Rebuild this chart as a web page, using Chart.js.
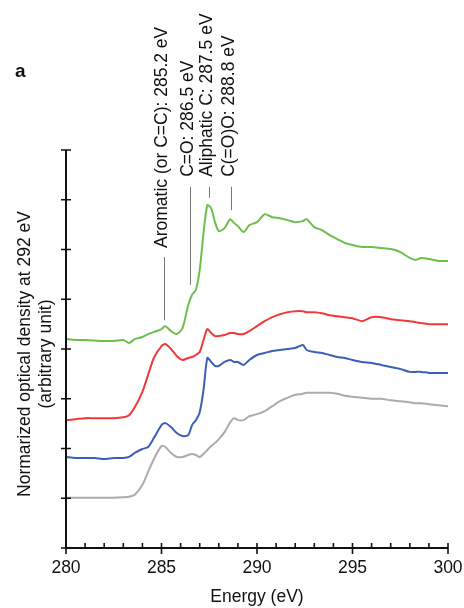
<!DOCTYPE html>
<html>
<head>
<meta charset="utf-8">
<script src="https://cdn.jsdelivr.net/npm/chart.js"></script>
<style>
body { margin: 0; background: #fff; }
</style>
</head>
<body>
<canvas id="xanesChart" width="464" height="608"></canvas>
<script>
// Energías (eV) y espectros normalizados (unidad arbitraria)
var energias = [280, 280.5, 281, 281.5, 282, 282.5, 283, 283.3, 283.6, 284, 284.3, 284.6, 285, 285.2, 285.5, 285.8, 286.1, 286.4, 286.6, 286.8, 287, 287.2, 287.4, 287.6, 287.8, 288, 288.3, 288.6, 288.8, 289, 289.3, 289.6, 290, 290.4, 290.8, 291.2, 291.6, 292, 292.4, 292.6, 293, 293.4, 293.8, 294.2, 294.6, 295, 295.5, 296, 296.5, 297, 297.5, 298, 298.3, 298.6, 299, 299.5, 300];

var verde = [4.20, 4.18, 4.18, 4.17, 4.16, 4.16, 4.18, 4.12, 4.20, 4.24, 4.30, 4.34, 4.40, 4.46, 4.36, 4.30, 4.42, 4.88, 5.09, 5.19, 5.59, 6.33, 6.89, 6.83, 6.55, 6.37, 6.43, 6.61, 6.53, 6.47, 6.35, 6.49, 6.55, 6.71, 6.65, 6.63, 6.59, 6.55, 6.57, 6.61, 6.45, 6.39, 6.29, 6.21, 6.13, 6.09, 6.05, 6.05, 6.03, 6.01, 5.95, 5.83, 5.79, 5.83, 5.81, 5.77, 5.77];

var rojo = [2.57, 2.59, 2.61, 2.61, 2.61, 2.61, 2.63, 2.67, 2.83, 3.14, 3.48, 3.82, 4.06, 4.10, 4.00, 3.86, 3.78, 3.82, 3.84, 3.88, 3.94, 4.18, 4.40, 4.32, 4.26, 4.26, 4.28, 4.32, 4.32, 4.30, 4.30, 4.36, 4.46, 4.56, 4.64, 4.70, 4.74, 4.76, 4.76, 4.74, 4.74, 4.72, 4.68, 4.66, 4.64, 4.62, 4.56, 4.64, 4.64, 4.60, 4.58, 4.56, 4.54, 4.52, 4.50, 4.50, 4.50];

var azul = [1.83, 1.81, 1.81, 1.81, 1.79, 1.81, 1.81, 1.83, 1.91, 1.99, 2.03, 2.21, 2.47, 2.51, 2.43, 2.31, 2.25, 2.27, 2.47, 2.57, 2.73, 3.18, 3.82, 3.74, 3.66, 3.66, 3.74, 3.78, 3.74, 3.74, 3.68, 3.78, 3.88, 3.92, 3.96, 3.98, 4.00, 4.02, 4.08, 3.98, 3.94, 3.92, 3.88, 3.84, 3.82, 3.78, 3.74, 3.72, 3.68, 3.64, 3.60, 3.54, 3.54, 3.54, 3.52, 3.52, 3.52];

var gris = [1.01, 1.01, 1.01, 1.01, 1.01, 1.01, 1.02, 1.03, 1.07, 1.27, 1.53, 1.79, 2.05, 2.03, 1.91, 1.83, 1.83, 1.87, 1.89, 1.87, 1.83, 1.89, 1.97, 2.05, 2.11, 2.19, 2.33, 2.53, 2.61, 2.57, 2.57, 2.65, 2.69, 2.75, 2.85, 2.95, 3.02, 3.08, 3.10, 3.12, 3.12, 3.12, 3.12, 3.10, 3.06, 3.04, 3.02, 3.00, 3.00, 2.97, 2.95, 2.93, 2.91, 2.91, 2.89, 2.87, 2.85];

var ticksX = [280, 285, 290, 295, 300];

// Picos marcados
var picosTexto = ["Aromatic (or C=C): 285.2 eV", "C=O: 286.5 eV", "Aliphatic C: 287.5 eV", "C(=O)O: 288.8 eV"];
var picosEnergia = [285.15, 286.5, 287.5, 288.65];
var picosLineaArriba = [5.85, 7.26, 7.26, 7.26];
var picosLineaAbajo = [4.58, 5.29, 7.04, 6.79];
var picosTextoInicio = [6.03, 7.46, 7.46, 7.46];

var FUENTE = "'Liberation Sans', Arial, Helvetica, sans-serif";

function serie(valores) {
    return energias.map(function (e, i) {
        return { x: e, y: valores[i] };
    });
}

var ejesPlugin = {
    id: "ejes",
    afterDraw: function (chart) {
        var ctx = chart.ctx;
        var sx = chart.scales.x;
        var sy = chart.scales.y;
        var x0 = sx.getPixelForValue(280);
        var x1 = sx.getPixelForValue(300);
        var y0 = sy.getPixelForValue(0);
        var y1 = sy.getPixelForValue(8);

        ctx.save();
        ctx.strokeStyle = "#111";
        ctx.lineWidth = 2;
        ctx.beginPath();
        ctx.moveTo(x0, y1);
        ctx.lineTo(x0, y0);
        ctx.lineTo(x1, y0);
        ctx.stroke();

        ctx.lineWidth = 1.6;
        ctx.beginPath();
        for (var v = 0; v <= 8; v++) {
            var py = sy.getPixelForValue(v);
            ctx.moveTo(x0 - 5, py);
            ctx.lineTo(x0 + 5, py);
        }
        for (var e = 280; e <= 300; e++) {
            var px = sx.getPixelForValue(e);
            if (ticksX.indexOf(e) >= 0) {
                ctx.moveTo(px, y0 - 5);
                ctx.lineTo(px, y0 + 6);
            } else {
                ctx.moveTo(px, y0 - 5);
                ctx.lineTo(px, y0);
            }
        }
        ctx.stroke();

        // Título eje Y
        ctx.fillStyle = "#111";
        ctx.font = "17.5px " + FUENTE;
        ctx.textAlign = "center";
        ctx.textBaseline = "middle";
        ctx.save();
        ctx.translate(25, 354);
        ctx.rotate(-Math.PI / 2);
        ctx.fillText("Normarized optical density at 292 eV", 0, 0);
        ctx.fillText("(arbitrary unit)", 0, 21);
        ctx.restore();

        // Letra del panel
        ctx.font = "bold 19px " + FUENTE;
        ctx.textAlign = "left";
        ctx.textBaseline = "alphabetic";
        ctx.fillText("a", 15, 77);

        // Picos
        ctx.strokeStyle = "#777";
        ctx.lineWidth = 1;
        for (var i = 0; i < picosTexto.length; i++) {
            var lx = Math.round(sx.getPixelForValue(picosEnergia[i])) + 0.5;
            ctx.beginPath();
            ctx.moveTo(lx, sy.getPixelForValue(picosLineaArriba[i]));
            ctx.lineTo(lx, sy.getPixelForValue(picosLineaAbajo[i]));
            ctx.stroke();

            ctx.save();
            ctx.translate(lx - 2, sy.getPixelForValue(picosTextoInicio[i]));
            ctx.rotate(-Math.PI / 2);
            ctx.font = "17.5px " + FUENTE;
            ctx.textAlign = "left";
            ctx.textBaseline = "middle";
            ctx.fillStyle = "#111";
            ctx.fillText(picosTexto[i], 0, 0);
            ctx.restore();
        }
        ctx.restore();
    }
};

var ctx1 = document.getElementById("xanesChart").getContext("2d");
var xanesChart = new Chart(ctx1, {
    type: "line",
    data: {
        datasets: [
            { data: serie(verde), borderColor: "#6cbf4e" },
            { data: serie(rojo), borderColor: "#ee3a3a" },
            { data: serie(azul), borderColor: "#3a5fb5" },
            { data: serie(gris), borderColor: "#ababab" },
        ],
    },
    options: {
        responsive: false,
        animation: false,
        layout: {
            padding: { top: 150, right: 16, left: 0, bottom: 0 },
        },
        elements: {
            line: { borderWidth: 2, tension: 0.25, fill: false },
            point: { radius: 0, hoverRadius: 0 },
        },
        plugins: {
            legend: { display: false },
            tooltip: { enabled: false },
        },
        scales: {
            x: {
                type: "linear",
                min: 280,
                max: 300,
                afterFit: function (s) {
                    s.height = 60;
                    s.paddingLeft = 0;
                    s.paddingRight = 0;
                },
                grid: { display: false, drawTicks: false },
                border: { display: false },
                ticks: {
                    stepSize: 5,
                    color: "#111",
                    padding: 10,
                    maxRotation: 0,
                    font: { family: FUENTE, size: 17.5 },
                },
                title: {
                    display: true,
                    text: "Energy (eV)",
                    color: "#111",
                    font: { family: FUENTE, size: 17.5 },
                    padding: { top: 0, bottom: 0 },
                },
            },
            y: {
                min: 0,
                max: 8,
                afterFit: function (s) {
                    s.width = 66;
                    s.paddingTop = 0;
                    s.paddingBottom = 0;
                },
                grid: { display: false, drawTicks: false },
                border: { display: false },
                ticks: { display: false },
            },
        },
    },
    plugins: [ejesPlugin],
});
</script>
</body>
</html>
